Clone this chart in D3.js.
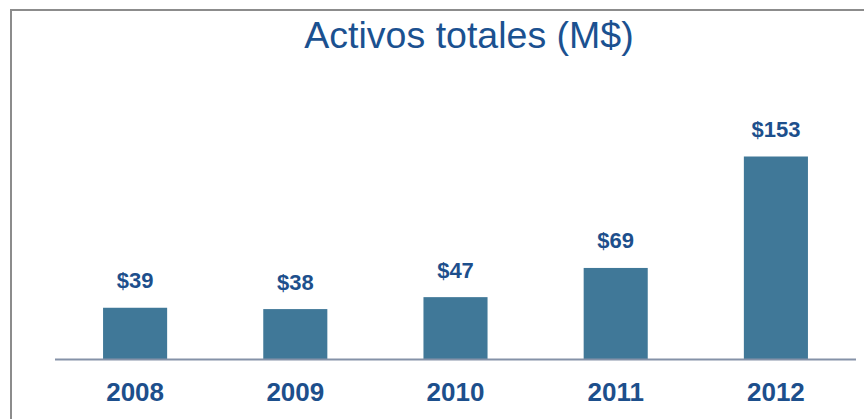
<!DOCTYPE html>
<html>
<head>
<meta charset="utf-8">
<script src="https://cdn.jsdelivr.net/npm/d3@7"></script>
<style>
  body { margin: 0; background: #fff; }
  svg { display: block; font-family: "Liberation Sans", Arial, sans-serif; }
</style>
</head>
<body>
<svg id="chart" width="864" height="419"></svg>
<script>
const years = ["2008", "2009", "2010", "2011", "2012"];
const assets = [39, 38, 47, 69, 153];
const value_labels = ["$39", "$38", "$47", "$69", "$153"];
const chart_title = "Activos totales (M$)";

const svg = d3.select('#chart');

// frame (top + left edges of the slide box)
svg.append('path')
    .attr("d", "M11,419 V10 H864")
    .style("fill", "none")
    .style("stroke", "#8c8c8c")
    .style("stroke-width", 2);

svg.append('text')
    .attr("x", 469)
    .attr("y", 48)
    .attr("text-anchor", "middle")
    .style("font-size", "37.5px")
    .style("fill", "#1b5190")
    .text(chart_title);

const x = d3.scaleBand()
    .domain(years)
    .range([55, 856])
    .paddingInner(0.6)
    .paddingOuter(0.3);

const y = d3.scaleLinear()
    .domain([0, 153])
    .range([359.5, 156.5]);

svg.selectAll('rect.bar')
    .data(assets)
    .enter()
    .append('rect')
    .attr("class", "bar")
    .attr("x", (d, i) => x(years[i]))
    .attr("y", d => y(d))
    .attr("width", x.bandwidth())
    .attr("height", d => y(0) - y(d))
    .style("fill", "#407898");

svg.selectAll('text.val')
    .data(assets)
    .enter()
    .append('text')
    .attr("class", "val")
    .attr("x", (d, i) => x(years[i]) + x.bandwidth() / 2)
    .attr("y", d => y(d) - 19.5)
    .attr("text-anchor", "middle")
    .style("font-size", "22px")
    .style("font-weight", "bold")
    .style("fill", "#1d4f8c")
    .text((d, i) => value_labels[i]);

const axis = svg.append('g')
    .attr("transform", "translate(0," + y(0) + ")")
    .call(d3.axisBottom(x).tickSize(0).tickPadding(23));

axis.select('.domain')
    .attr("d", "M55,0H856")
    .style("stroke", "#8592a8")
    .style("stroke-width", 2);

axis.selectAll('text')
    .style("font-size", "26px")
    .style("font-weight", "bold")
    .style("font-family", "'Liberation Sans', Arial, sans-serif")
    .style("fill", "#1d4f8c");
</script>
</body>
</html>
